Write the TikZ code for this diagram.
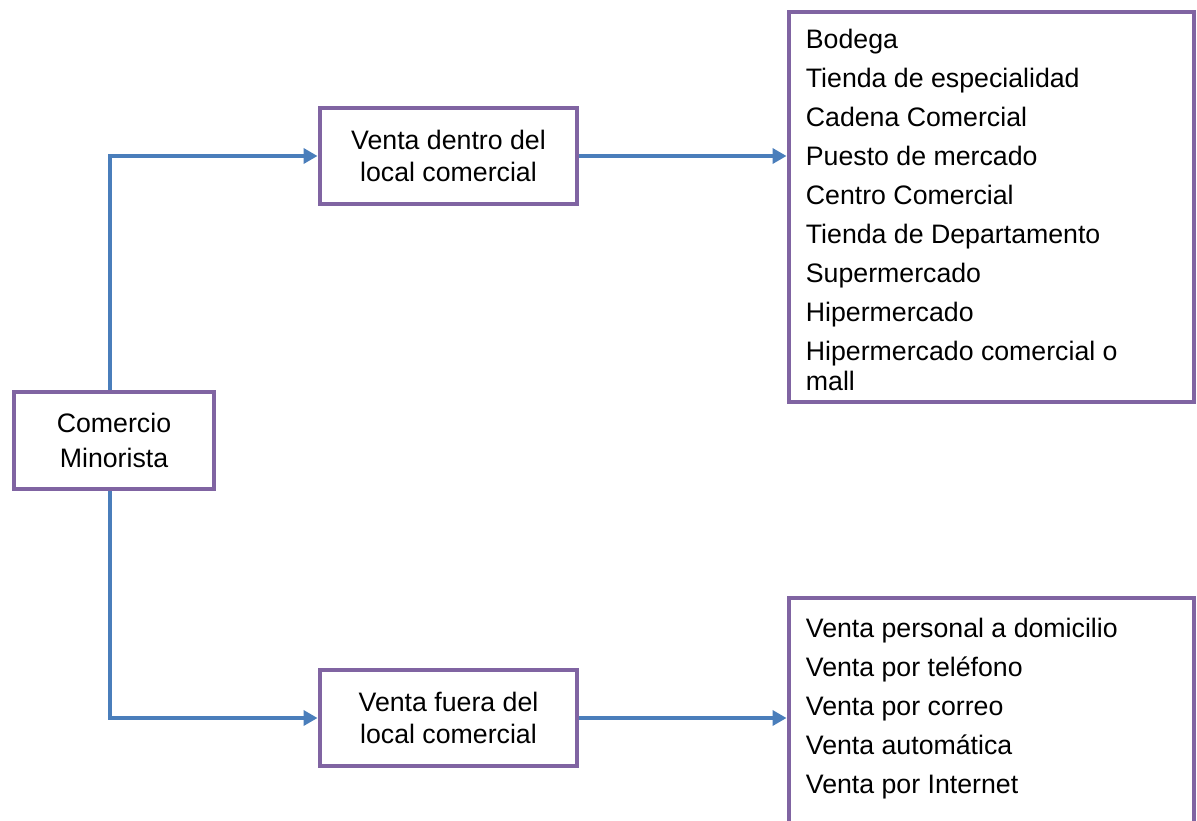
\documentclass[tikz,border=0pt]{standalone}
\usepackage{fontspec}
\setmainfont{Liberation Sans}
\usetikzlibrary{arrows.meta,positioning}
\definecolor{boxpurple}{HTML}{8064A2}
\definecolor{linkblue}{HTML}{4A7EBB}
\begin{document}
\begin{tikzpicture}
		\tikzstyle{every node}+=[inner sep=0pt, font=\fontsize{15.2}{17}\selectfont]
		\tikzstyle{box}=[draw=boxpurple, line width=2.8pt, rectangle, align=center]
		\tikzstyle{link}=[draw=linkblue, line width=2pt, -{Triangle[length=0.28cm,width=0.3cm]}]
		\tikzstyle{items}=[align=left, anchor=north west]
		\clip (0,0) rectangle (23.94,-16.4);
		\node [box, minimum width=4cm, minimum height=1.94cm, font=\fontsize{15.2}{20.4}\selectfont] (comercio) at (2.28,-8.81) {Comercio\\Minorista};
		\node [box, minimum width=5.14cm, minimum height=1.92cm, font=\fontsize{15.2}{18}\selectfont] (dentro) at (8.97,-3.12) {Venta dentro del\\local comercial};
		\node [box, minimum width=5.14cm, minimum height=1.92cm, font=\fontsize{15.2}{18}\selectfont] (fuera) at (8.97,-14.36) {Venta fuera del\\local comercial};
		\node [box, minimum width=8.1cm, minimum height=7.8cm] (listA) at (19.83,-4.14) {};
		\node [box, minimum width=8.1cm, minimum height=6cm] (listB) at (19.83,-14.96) {};
		\node [items, below right=0.38cm and 0.38cm of listA.north west] (itemsA) {Bodega\\[5.2pt]Tienda de especialidad\\[5.2pt]Cadena Comercial\\[5.2pt]Puesto de mercado\\[5.2pt]Centro Comercial\\[5.2pt]Tienda de Departamento\\[5.2pt]Supermercado\\[5.2pt]Hipermercado\\[5.2pt]Hipermercado comercial o\\mall};
		\node [items, below right=0.44cm and 0.38cm of listB.north west] (itemsB) {Venta personal a domicilio\\[5.2pt]Venta por tel\'efono\\[5.2pt]Venta por correo\\[5.2pt]Venta autom\'atica\\[5.2pt]Venta por Internet};
		\draw [link] ([xshift=-0.08cm]comercio.north) |- (dentro.west);
		\draw [link] ([xshift=-0.08cm]comercio.south) |- (fuera.west);
		\draw [link] (dentro.east) -- (dentro -| listA.west);
		\draw [link] (fuera.east) -- (fuera -| listB.west);
	\end{tikzpicture}
\end{document}
